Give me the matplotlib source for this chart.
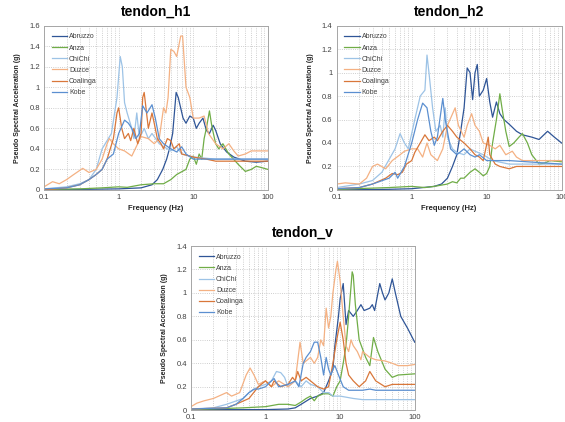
import matplotlib.pyplot as plt
from matplotlib.ticker import FuncFormatter, LogLocator, NullFormatter

plt.rcParams['font.family'] = ['Liberation Sans', 'DejaVu Sans']

names = ['Abruzzo', 'Anza', 'ChiChi', 'Duzce', 'Coalinga', 'Kobe']
colors = ['#2F5597', '#70AD47', '#9DC3E6', '#F4B183', '#D9773A', '#5B8FD0']

# ---- tendon_h1 ----
h1_abruzzo_f = [0.1, 0.3, 1, 2, 2.8, 3.3, 3.9, 4.4, 4.8, 5.3, 5.9, 6.3, 7.3, 8, 9, 10, 11, 12, 13.5, 15, 16.5, 18.5, 20, 23, 28, 35, 50, 70, 100]
h1_abruzzo_a = [0.0, 0.005, 0.01, 0.02, 0.05, 0.1, 0.2, 0.3, 0.4, 0.55, 0.95, 0.9, 0.7, 0.65, 0.72, 0.7, 0.6, 0.65, 0.7, 0.58, 0.55, 0.63, 0.58, 0.45, 0.37, 0.32, 0.28, 0.27, 0.28]
h1_anza_f = [0.1, 0.3, 0.6, 1, 1.3, 2, 3, 4, 5, 6, 8, 9, 10, 11, 12, 13, 14, 15, 16.5, 17.5, 18, 20, 22, 25, 30, 40, 50, 60, 70, 80, 100]
h1_anza_a = [0.005, 0.01, 0.02, 0.03, 0.025, 0.05, 0.06, 0.06, 0.1, 0.15, 0.2, 0.3, 0.33, 0.25, 0.35, 0.3, 0.5, 0.6, 0.77, 0.65, 0.6, 0.45, 0.4, 0.45, 0.35, 0.25, 0.18, 0.2, 0.23, 0.22, 0.2]
h1_chichi_f = [0.1, 0.2, 0.3, 0.4, 0.5, 0.6, 0.8, 0.95, 1.05, 1.12, 1.2, 1.3, 1.5, 1.6, 1.75, 1.9, 2.2, 2.5, 2.8, 3.5, 4.5, 5, 6, 7, 10, 20, 100]
h1_chichi_a = [0.01, 0.03, 0.06, 0.1, 0.2, 0.4, 0.55, 0.9, 1.3, 1.2, 0.85, 0.75, 0.6, 0.5, 0.75, 0.5, 0.6, 0.5, 0.55, 0.45, 0.4, 0.38, 0.42, 0.35, 0.32, 0.3, 0.3]
h1_duzce_f = [0.1, 0.13, 0.16, 0.2, 0.25, 0.33, 0.4, 0.5, 0.6, 0.7, 0.75, 0.85, 1, 1.2, 1.5, 1.8, 2, 2.5, 3, 3.5, 4, 4.3, 4.6, 5, 5.5, 6, 6.8, 7.2, 8, 8.5, 9, 10, 12, 14, 16, 20, 25, 30, 35, 40, 50, 60, 100]
h1_duzce_a = [0.03, 0.08, 0.06, 0.1, 0.15, 0.21, 0.17, 0.2, 0.3, 0.45, 0.5, 0.45, 0.4, 0.38, 0.33, 0.45, 0.52, 0.5, 0.45, 0.5, 0.8, 0.75, 0.9, 1.37, 1.35, 1.3, 1.5, 1.5, 1.0, 0.95, 0.9, 0.7, 0.7, 0.72, 0.55, 0.45, 0.4, 0.45, 0.38, 0.33, 0.35, 0.38, 0.38]
h1_coalinga_f = [0.1, 0.2, 0.3, 0.4, 0.5, 0.6, 0.7, 0.85, 0.95, 1, 1.1, 1.2, 1.35, 1.45, 1.6, 1.8, 2, 2.1, 2.2, 2.5, 2.8, 3, 3.3, 3.7, 4, 4.5, 5, 5.5, 6.5, 7, 9, 10, 15, 20, 100]
h1_coalinga_a = [0.0, 0.02, 0.05, 0.1, 0.15, 0.2, 0.3, 0.5, 0.75, 0.8, 0.6, 0.5, 0.55, 0.48, 0.6, 0.45, 0.55, 0.9, 0.95, 0.6, 0.75, 0.65, 0.5, 0.45, 0.4, 0.5, 0.48, 0.4, 0.45, 0.35, 0.33, 0.32, 0.3, 0.28, 0.28]
h1_kobe_f = [0.1, 0.2, 0.3, 0.4, 0.5, 0.6, 0.7, 0.85, 1, 1.2, 1.35, 1.5, 1.7, 1.9, 2.1, 2.4, 2.8, 3.1, 3.5, 4, 5, 6, 7, 8, 10, 20, 100]
h1_kobe_a = [0.01, 0.02, 0.05, 0.1, 0.15, 0.2, 0.3, 0.35, 0.55, 0.68, 0.65, 0.6, 0.5, 0.55, 0.82, 0.75, 0.83, 0.7, 0.5, 0.45, 0.4, 0.37, 0.42, 0.35, 0.3, 0.3, 0.3]

# ---- tendon_h2 ----
h2_abruzzo_f = [0.1, 0.5, 1, 2, 2.5, 3, 3.5, 4, 4.5, 5, 5.5, 6, 6.5, 7, 7.5, 8, 9, 10, 11, 12, 13.5, 15, 17, 20, 25, 30, 40, 50, 65, 80, 100]
h2_abruzzo_a = [0.0, 0.005, 0.01, 0.03, 0.05, 0.1, 0.2, 0.3, 0.5, 0.7, 1.04, 1.0, 0.77, 1.0, 1.07, 0.8, 0.85, 0.95, 0.75, 0.62, 0.75, 0.65, 0.6, 0.56, 0.5, 0.47, 0.45, 0.43, 0.5, 0.45, 0.4]
h2_anza_f = [0.1, 0.5, 1, 1.5, 2, 3, 3.5, 4, 4.5, 5, 6, 7, 8, 9, 10, 11, 12, 13.5, 15, 16, 18, 20, 23, 27, 30, 35, 40, 50, 60, 70, 100]
h2_anza_a = [0.005, 0.02, 0.03, 0.02, 0.03, 0.05, 0.07, 0.06, 0.1, 0.1, 0.15, 0.18, 0.15, 0.12, 0.14, 0.2, 0.4, 0.6, 0.82, 0.7, 0.5, 0.37, 0.4, 0.45, 0.48, 0.4, 0.3, 0.22, 0.23, 0.25, 0.24]
h2_chichi_f = [0.1, 0.2, 0.3, 0.4, 0.6, 0.7, 0.8, 0.9, 1.1, 1.3, 1.5, 1.6, 1.7, 1.9, 2.1, 2.4, 2.6, 2.8, 3, 3.5, 4, 5, 6, 7, 9, 12, 20, 100]
h2_chichi_a = [0.02, 0.05, 0.08, 0.15, 0.35, 0.48, 0.4, 0.35, 0.6, 0.8, 0.85, 1.15, 1.0, 0.7, 0.5, 0.55, 0.45, 0.7, 0.45, 0.35, 0.32, 0.3, 0.35, 0.33, 0.3, 0.25, 0.22, 0.22]
h2_duzce_f = [0.1, 0.13, 0.2, 0.25, 0.3, 0.35, 0.45, 0.55, 0.7, 0.8, 1, 1.2, 1.4, 1.6, 1.8, 2.2, 2.6, 3, 3.8, 4.2, 5, 5.5, 6.3, 7, 8, 9, 11, 13, 15, 18, 22, 25, 30, 100]
h2_duzce_a = [0.05, 0.06, 0.05, 0.1, 0.2, 0.22, 0.18, 0.25, 0.3, 0.33, 0.35, 0.35, 0.28, 0.4, 0.3, 0.25, 0.35, 0.55, 0.7, 0.55, 0.45, 0.55, 0.65, 0.55, 0.5, 0.4, 0.38, 0.35, 0.38, 0.3, 0.33, 0.28, 0.25, 0.25]
h2_coalinga_f = [0.1, 0.2, 0.3, 0.45, 0.55, 0.65, 0.75, 0.85, 1, 1.1, 1.3, 1.5, 1.7, 2, 2.2, 2.6, 3, 3.5, 4, 5, 6, 7, 8, 9, 10.5, 11, 13, 15, 20, 25, 100]
h2_coalinga_a = [0.01, 0.02, 0.05, 0.1, 0.14, 0.13, 0.15, 0.22, 0.25, 0.32, 0.4, 0.47, 0.42, 0.45, 0.42, 0.5, 0.55, 0.5, 0.45, 0.4, 0.35, 0.3, 0.28, 0.25, 0.45, 0.3, 0.22, 0.2, 0.18, 0.2, 0.2]
h2_kobe_f = [0.1, 0.2, 0.3, 0.5, 0.6, 0.65, 0.8, 1, 1.2, 1.4, 1.6, 1.8, 2, 2.2, 2.6, 2.8, 3.3, 4, 5, 6, 7, 8, 10, 20, 100]
h2_kobe_a = [0.01, 0.02, 0.05, 0.1, 0.15, 0.1, 0.2, 0.4, 0.6, 0.74, 0.7, 0.5, 0.38, 0.45, 0.78, 0.6, 0.35, 0.3, 0.35, 0.3, 0.28, 0.3, 0.25, 0.25, 0.22]

# ---- tendon_v ----
v_abruzzo_f = [0.1, 1, 2, 2.5, 3, 4, 5, 6, 7, 8, 8.5, 9.5, 10, 11, 11.5, 12, 13, 15, 17, 19, 21, 25, 27, 29, 34, 37, 40, 45, 50, 55, 65, 80, 100]
v_abruzzo_a = [0.005, 0.005, 0.01, 0.02, 0.05, 0.1, 0.12, 0.15, 0.25, 0.35, 0.55, 0.8, 0.95, 1.08, 0.9, 0.73, 0.85, 0.8, 0.85, 0.9, 0.85, 0.87, 0.9, 0.85, 1.08, 1.0, 0.94, 1.0, 1.12, 1.0, 0.8, 0.7, 0.58]
v_anza_f = [0.1, 0.5, 1, 1.5, 2, 2.5, 3, 3.5, 4, 4.5, 5, 6, 7, 8, 9, 10, 11, 12, 13, 14.5, 15, 16, 18, 22, 25, 28, 32, 40, 50, 60, 100]
v_anza_a = [0.005, 0.02, 0.03, 0.05, 0.05, 0.04, 0.07, 0.1, 0.12, 0.08, 0.12, 0.14, 0.14, 0.12, 0.2, 0.25, 0.4, 0.55, 0.8, 1.18, 1.15, 0.9, 0.6, 0.45, 0.38, 0.62, 0.5, 0.35, 0.28, 0.3, 0.31]
v_chichi_f = [0.1, 0.2, 0.3, 0.5, 0.6, 0.8, 1, 1.2, 1.4, 1.6, 1.8, 2, 2.5, 3, 3.5, 4, 5, 6, 7, 8, 10, 15, 20, 100]
v_chichi_a = [0.01, 0.02, 0.05, 0.1, 0.15, 0.2, 0.22, 0.25, 0.33, 0.32, 0.28, 0.2, 0.25, 0.2, 0.25, 0.22, 0.2, 0.15, 0.15, 0.12, 0.12, 0.1, 0.09, 0.09]
v_duzce_f = [0.1, 0.12, 0.15, 0.2, 0.3, 0.35, 0.45, 0.55, 0.62, 0.7, 0.8, 1, 1.2, 1.5, 2, 2.5, 2.9, 3.2, 4, 4.5, 5, 5.5, 6, 6.5, 7, 7.5, 8, 8.8, 9.2, 10, 11, 12, 13, 14, 15, 17, 19, 20, 25, 30, 40, 50, 60, 80, 100]
v_duzce_a = [0.03, 0.06, 0.08, 0.1, 0.15, 0.12, 0.15, 0.3, 0.36, 0.3, 0.22, 0.25, 0.2, 0.25, 0.2, 0.25, 0.58, 0.4, 0.45, 0.4, 0.45, 0.6, 0.55, 0.87, 0.7, 0.8, 1.0, 1.2, 1.27, 1.1, 0.8, 0.55, 0.5, 0.6, 0.55, 0.5, 0.43, 0.5, 0.45, 0.43, 0.42, 0.4, 0.38, 0.38, 0.39]
v_coalinga_f = [0.1, 0.3, 0.4, 0.6, 0.8, 1, 1.2, 1.3, 1.6, 2, 2.3, 2.5, 2.7, 3, 3.5, 4, 5, 6, 7, 8, 9, 10, 11, 12, 13, 15, 18, 22, 25, 30, 40, 50, 100]
v_coalinga_a = [0.01, 0.02, 0.05, 0.1, 0.2, 0.25, 0.2, 0.25, 0.2, 0.22, 0.28, 0.25, 0.33, 0.25, 0.28, 0.25, 0.2, 0.18, 0.2, 0.4, 0.6, 0.75, 0.6, 0.4, 0.3, 0.25, 0.2, 0.25, 0.33, 0.25, 0.2, 0.22, 0.22]
v_kobe_f = [0.1, 0.3, 0.4, 0.5, 0.6, 0.7, 0.8, 1, 1.2, 1.3, 1.5, 2, 2.5, 2.8, 3.2, 3.5, 4, 4.5, 5, 5.5, 6, 6.5, 7, 7.5, 8, 8.5, 9.5, 11, 13, 20, 25, 30, 100]
v_kobe_a = [0.01, 0.02, 0.05, 0.1, 0.15, 0.18, 0.18, 0.2, 0.25, 0.27, 0.2, 0.22, 0.25, 0.2, 0.4, 0.45, 0.5, 0.58, 0.58, 0.45, 0.3, 0.45, 0.35, 0.3, 0.35, 0.38, 0.3, 0.2, 0.17, 0.17, 0.18, 0.17, 0.17]

panels = [
    ('tendon_h1', [0.078, 0.550, 0.396, 0.389], 1.6, True,
     [(h1_abruzzo_f, h1_abruzzo_a), (h1_anza_f, h1_anza_a), (h1_chichi_f, h1_chichi_a),
      (h1_duzce_f, h1_duzce_a), (h1_coalinga_f, h1_coalinga_a), (h1_kobe_f, h1_kobe_a)]),
    ('tendon_h2', [0.596, 0.550, 0.398, 0.389], 1.4, True,
     [(h2_abruzzo_f, h2_abruzzo_a), (h2_anza_f, h2_anza_a), (h2_chichi_f, h2_chichi_a),
      (h2_duzce_f, h2_duzce_a), (h2_coalinga_f, h2_coalinga_a), (h2_kobe_f, h2_kobe_a)]),
    ('tendon_v', [0.338, 0.028, 0.396, 0.389], 1.4, False,
     [(v_abruzzo_f, v_abruzzo_a), (v_anza_f, v_anza_a), (v_chichi_f, v_chichi_a),
      (v_duzce_f, v_duzce_a), (v_coalinga_f, v_coalinga_a), (v_kobe_f, v_kobe_a)]),
]

fig = plt.figure(figsize=(5.65, 4.22), dpi=100)

for title, rect, ymax, show_xlabel, series in panels:
    ax = fig.add_axes(rect)
    for (f, a), name, c in zip(series, names, colors):
        ax.plot(f, a, color=c, lw=0.9, label=name)
    ax.set_xscale('log')
    ax.set_xlim(0.1, 100)
    ax.set_ylim(0, ymax)
    ax.set_yticks([i * 0.2 for i in range(int(round(ymax / 0.2)) + 1)])
    ax.yaxis.set_major_formatter(FuncFormatter(lambda v, p: '{:g}'.format(round(v, 1))))
    ax.xaxis.set_major_formatter(FuncFormatter(lambda v, p: '{:g}'.format(v)))
    ax.xaxis.set_minor_locator(LogLocator(base=10, subs=range(2, 10)))
    ax.xaxis.set_minor_formatter(NullFormatter())
    ax.grid(True, which='both', axis='x', color='#bfbfbf', ls=':', lw=0.6)
    ax.grid(True, which='major', axis='y', color='#bfbfbf', ls=':', lw=0.6)
    ax.tick_params(which='both', length=0, labelsize=5.5, pad=3, labelcolor='#404040')
    for s in ax.spines.values():
        s.set_color('#a6a6a6')
        s.set_linewidth(0.7)
    ax.set_title(title, fontsize=10, fontweight='bold', pad=7)
    ax.set_ylabel('Pseudo Spectral Acceleration (g)', fontsize=5, fontweight='bold', labelpad=6,
                  color='#262626')
    if show_xlabel:
        ax.set_xlabel('Frequency (Hz)', fontsize=5.5, fontweight='bold', labelpad=3,
                      color='#262626')
    ax.legend(loc='upper left', frameon=False, fontsize=5, handlelength=2.2,
              handletextpad=0.3, labelspacing=0.6, borderaxespad=0.7,
              labelcolor='#404040')

fig.savefig('out.png', dpi=100)
